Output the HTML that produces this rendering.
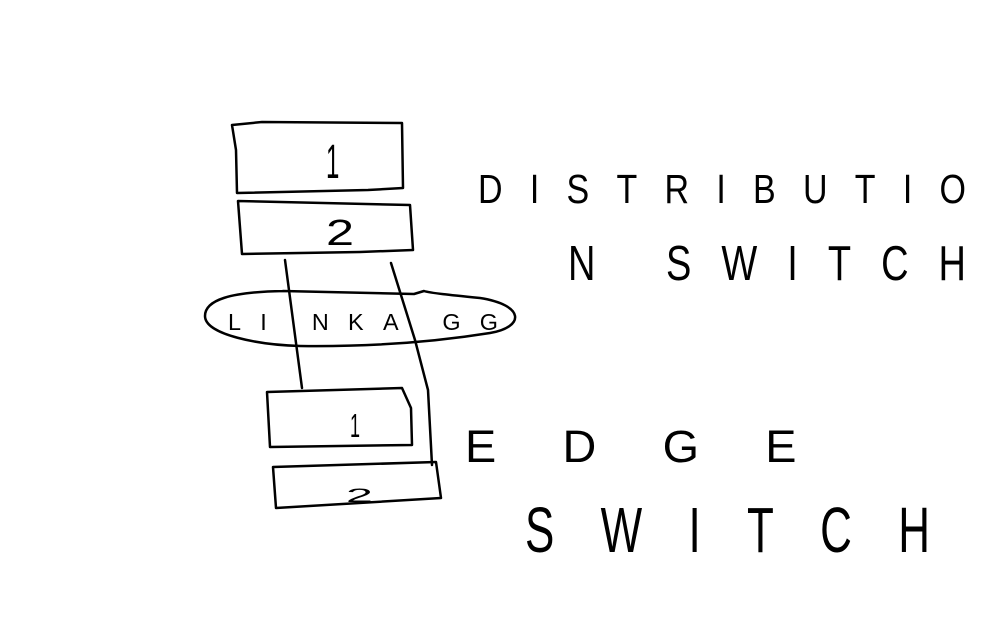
<!DOCTYPE html>
<html><head><style>html,body{margin:0;padding:0;background:#fff;}svg{display:block}</style></head>
<body>
<svg width="998" height="624" viewBox="0 0 998 624" xmlns="http://www.w3.org/2000/svg">
<g fill="none" stroke="#000" stroke-width="2.5" stroke-linejoin="round" stroke-linecap="round">
<path d="M232,125 L262,122 L402,123 L403,188 L368,190 L237,193 L236,150 Z"/>
<path d="M238,201 L410,205 L413,250 L360,252 L242,254 Z"/>
<path d="M285,260 L302,388"/>
<path d="M391,263 L415,340 L428,390 L432,465"/>
<path d="M283,291 C230,292 205,300 205,316 C205,335 260,345 300,346 C380,347 440,341 490,333 C525,327 525,305 480,298 C450,295 430,293 424,291 L414,294 L283,291"/>
<path d="M267,392 L402,388 L411,408 L412,445 L270,447 Z"/>
<path d="M273,467 L436,462 L441,498 L276,508 Z"/>
</g>
<g font-family="'Liberation Sans',sans-serif" fill="#000" font-weight="normal">
<text x="0" y="0" font-size="40" transform="translate(326,178) scale(0.6,1.2)">1</text>
<text x="0" y="0" font-size="36" transform="translate(326,245) scale(1.4,1)">2</text>
<text x="0" y="0" font-size="30" transform="translate(350,437) scale(0.6,1.1)">1</text>
<text x="0" y="0" font-size="22" transform="translate(346,502) scale(2.2,0.9)">2</text>
<text x="0" y="0" font-size="26" transform="translate(228,330) scale(0.9,0.9)" textLength="300" lengthAdjust="spacing">LI  NKA  GG</text>
<text x="0" y="0" font-size="34" transform="translate(478,203) scale(1,1.2)" textLength="488" lengthAdjust="spacing">DISTRIBUTIO</text>
<text x="0" y="0" font-size="38" transform="translate(568,280) scale(1,1.3)" textLength="398" lengthAdjust="spacing">N SWITCH</text>
<text x="0" y="0" font-size="36" transform="translate(465,462) scale(1.3,1.25)" textLength="255" lengthAdjust="spacing">EDGE</text>
<text x="0" y="0" font-size="44" transform="translate(525,552) scale(1,1.45)" textLength="405" lengthAdjust="spacing">SWITCH</text>
</g>
</svg>
</body></html>
